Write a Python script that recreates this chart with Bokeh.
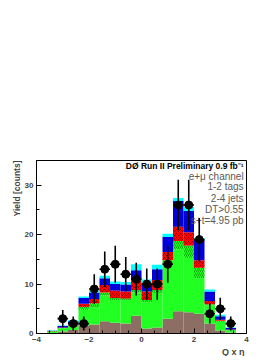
import numpy as np
from bokeh.plotting import figure
from bokeh.models import ColumnDataSource, Title, FixedTicker
from bokeh.core.properties import value
from bokeh.embed import file_html
from bokeh.resources import INLINE

# bin centres (width 0.4) of Q x eta
bin_centers = [-3.4, -3.0, -2.6, -2.2, -1.8, -1.4, -1.0, -0.6, -0.2,
               0.2, 0.6, 1.0, 1.4, 1.8, 2.2, 2.6, 3.0, 3.4]
# stacked backgrounds (bottom to top)
multijet = [0.1, 0.4, 0.7, 1.6, 1.8, 2.5, 2.2, 2.0, 3.6, 1.0, 1.2, 3.0, 4.5, 4.3, 4.0, 2.0, 0.6, 0.2]
wlight   = [0.25, 0.6, 0.7, 3.2, 3.5, 5.2, 4.6, 4.8, 4.7, 5.3, 7.0, 10.8, 12.5, 11.0, 7.2, 3.7, 1.8, 0.4]
wheavy   = [0.1, 0.1, 0.2, 0.6, 0.8, 0.6, 0.4, 0.3, 0.5, 0.5, 0.6, 1.0, 1.7, 2.5, 2.1, 0.2, 0.2, 0.1]
ttlj     = [0.05, 0.1, 0.2, 0.6, 0.9, 1.5, 1.5, 1.4, 2.2, 1.7, 2.0, 1.7, 2.9, 2.7, 1.5, 0.7, 0.2, 0.1]
ttll     = [0.05, 0.3, 0.7, 1.2, 1.3, 1.4, 1.3, 1.4, 1.8, 1.5, 2.2, 3.0, 5.2, 4.3, 4.2, 1.9, 0.7, 0.3]
signal   = [0.05, 0.1, 0.2, 0.3, 0.4, 0.5, 0.5, 0.5, 1.2, 0.9, 0.9, 0.7, 0.6, 0.8, 0.3, 0.4, 0.3, 0.1]

# observed data
data_x = [-3.0, -2.6, -2.2, -1.8, -1.4, -1.0, -0.6, -0.2, 0.2, 0.6, 1.0, 1.4, 1.8, 2.2, 2.6, 3.0, 3.4]
data_y = [3, 2, 2, 9, 13, 14, 12, 11, 10, 10, 14, 26, 26, 19, 4, 5, 2]

x_ticks = [-4, -2, 0, 2, 4]
y_ticks = [0, 10, 20, 30]

FONT = "Liberation Sans"

p = figure(frame_width=210, frame_height=173, x_range=(-4, 4), y_range=(0, 35),
           output_backend="svg", toolbar_location=None,
           min_border_left=36, min_border_right=25, min_border_top=160, min_border_bottom=20,
           background_fill_color="white", border_fill_color="white")
p.grid.visible = False
p.outline_line_color = "black"
p.outline_line_width = 1

src = ColumnDataSource(dict(x=bin_centers, multijet=multijet, wlight=wlight, wheavy=wheavy,
                            ttlj=ttlj, ttll=ttll, signal=signal))
names = ["multijet", "wlight", "wheavy", "ttlj", "ttll", "signal"]
fills = ["#8c6e64", "#22ff22", "#22ff22", "#ff0000", "#0000dd", "#00ffff"]
hatches = [None, None, "right_diagonal_line", "horizontal_wave", None, None]
hcolors = ["black", "black", "#007700", "#330000", "black", "black"]
bottom = [0.0] * len(bin_centers)
for name, fc, hp, hc in zip(names, fills, hatches, hcolors):
    top = [b + v for b, v in zip(bottom, src.data[name])]
    kw = {}
    if hp:
        kw = dict(hatch_pattern=hp, hatch_color=hc, hatch_scale=4, hatch_weight=0.8, hatch_alpha=0.8)
    p.vbar(x=bin_centers, width=0.4, bottom=bottom, top=top, fill_color=fc,
           line_color=None, **kw)
    bottom = top

# text box
txt_x = [3.89] * 5
txt_y = [31.85, 29.7, 27.4, 25.1, 22.9]
txt = ["e+\u03bc channel", "1-2 tags", "2-4 jets", "DT>0.55", "s+t=4.95 pb"]
p.text(x=txt_x, y=txt_y, text=txt, text_align="right", text_baseline="middle",
       text_font=value(FONT), text_font_size="10px", text_color="#5a5a5a")
p.text(x=[3.89], y=[33.9], text=["D\u00d8 Run II Preliminary 0.9 fb\u207b\u00b9"], text_align="right",
       text_baseline="middle", text_font=value(FONT), text_font_size="8.5px",
       text_font_style="bold", text_color="black")

# data with error bars
err = [np.sqrt(v) for v in data_y]
p.segment(x0=data_x, x1=data_x, y0=[v - e for v, e in zip(data_y, err)],
          y1=[v + e for v, e in zip(data_y, err)], line_color="black", line_width=1.6)
p.segment(x0=[x - 0.2 for x in data_x], x1=[x + 0.2 for x in data_x], y0=data_y, y1=data_y,
          line_color="black", line_width=1.6)
p.scatter(x=data_x, y=data_y, size=8, fill_color="black", line_color="black")

# axes
for ax in (p.xaxis[0], p.yaxis[0]):
    ax.major_label_text_font = FONT
    ax.major_label_text_font_style = "bold"
    ax.major_label_text_font_size = "8px"
    ax.major_tick_in = 5
    ax.major_tick_out = 0
    ax.minor_tick_in = 3
    ax.minor_tick_out = 0
    ax.axis_line_color = "black"
p.xaxis[0].ticker = FixedTicker(ticks=x_ticks, minor_ticks=[-4 + 0.5 * i for i in range(17)])
p.yaxis[0].ticker = FixedTicker(ticks=y_ticks, minor_ticks=[5 * i for i in range(8)])
p.xaxis[0].major_label_standoff = 3
p.yaxis[0].major_label_standoff = 3

p.add_layout(Title(text="Q x \u03b7", align="right", text_font=FONT, text_font_style="bold",
                   text_font_size="9px", standoff=0, offset=2), "below")
p.add_layout(Title(text="Yield [counts]", align="right", text_font=FONT, text_font_style="bold",
                   text_font_size="8.5px", standoff=0), "left")

open("out.html", "w").write(file_html(p, INLINE))
